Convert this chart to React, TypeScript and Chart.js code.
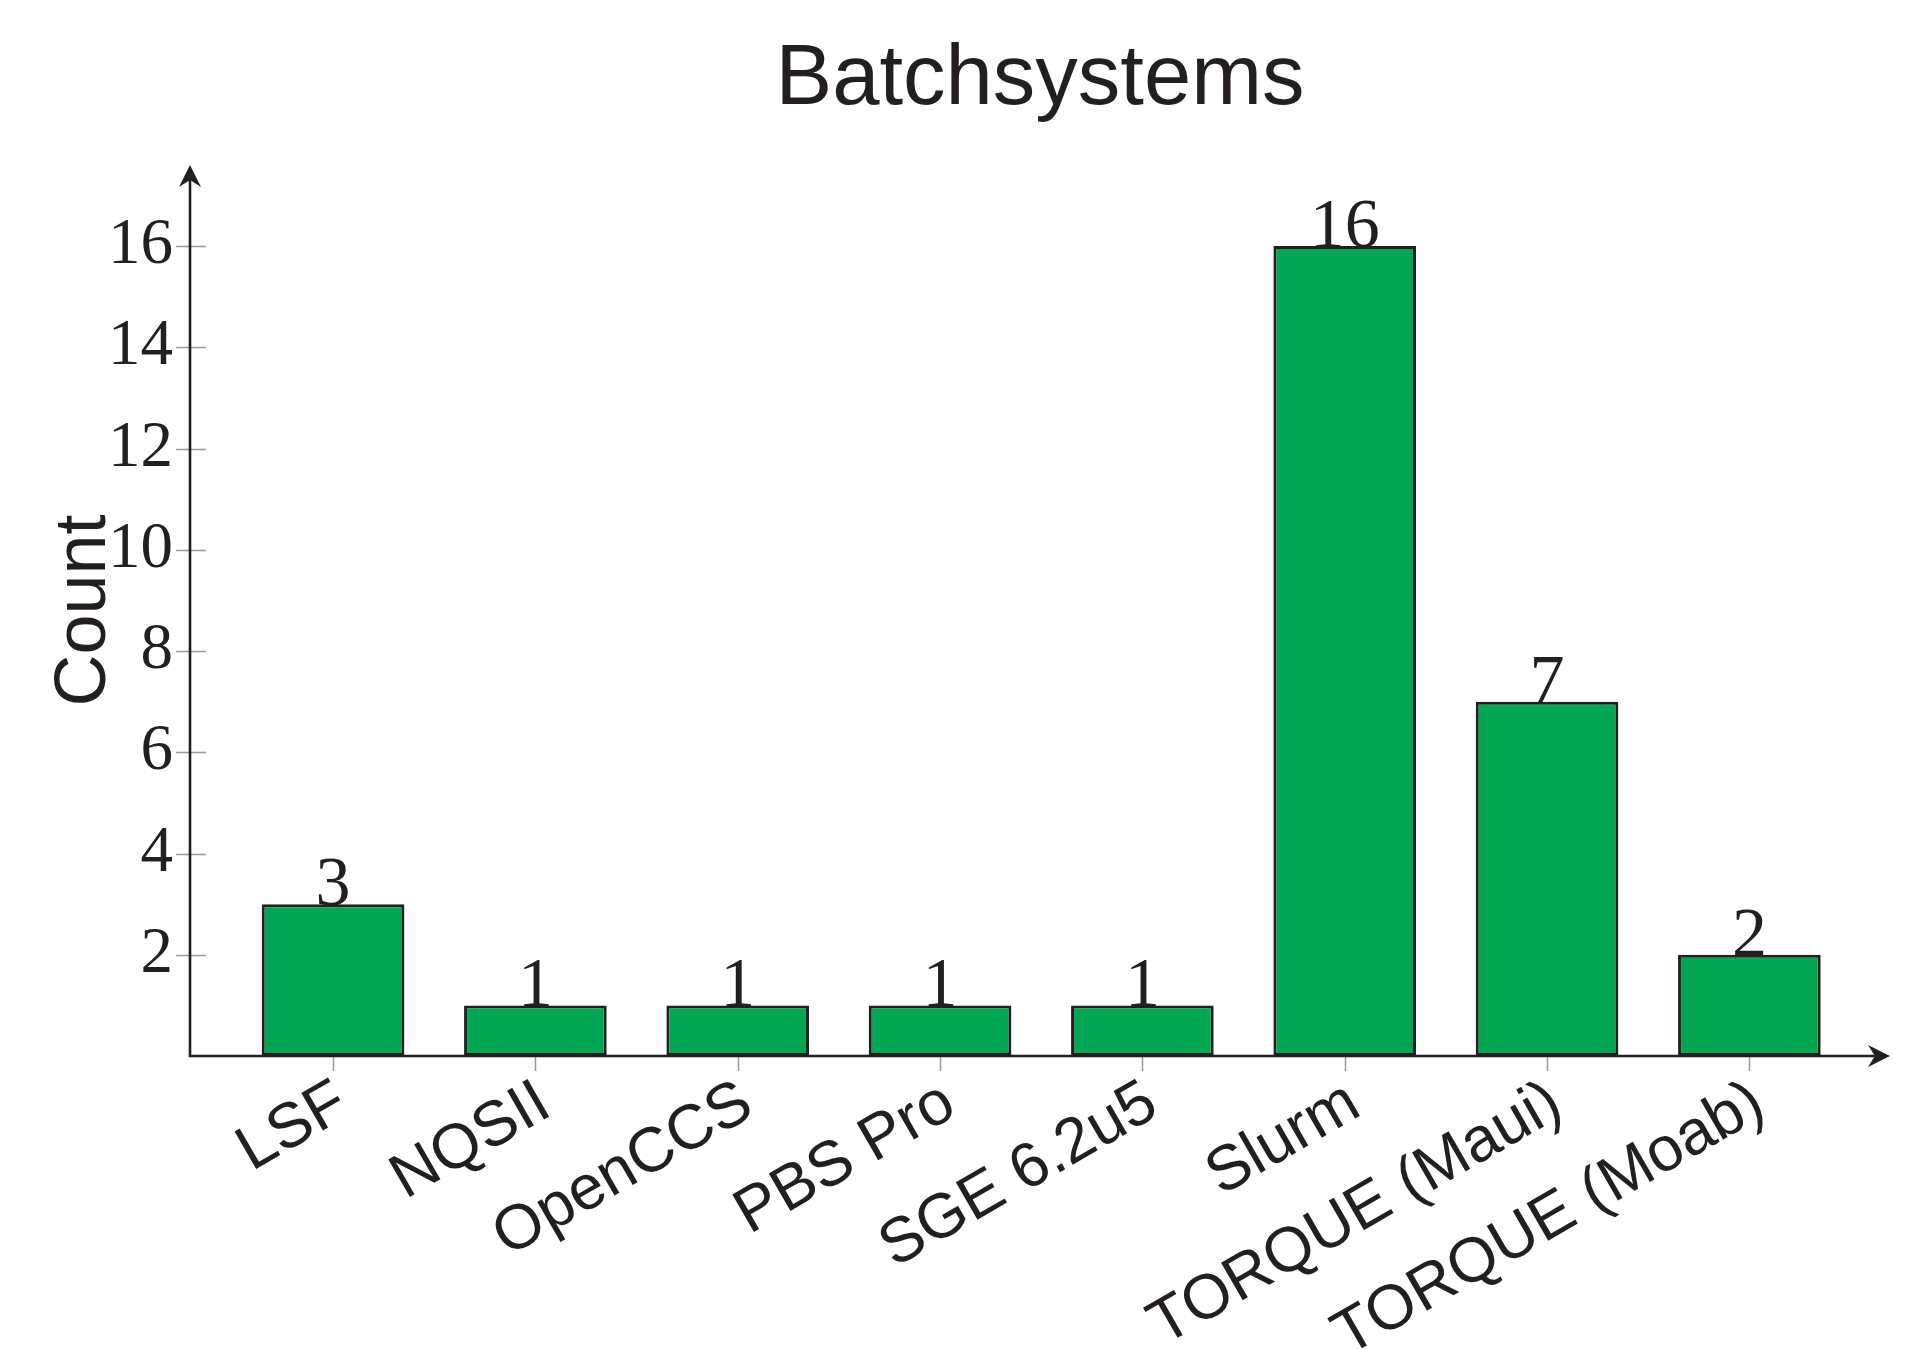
import React, { useEffect, useRef } from 'react';
import { Chart, registerables } from 'chart.js';

Chart.register(...registerables);

const categories = ['LSF', 'NQSII', 'OpenCCS', 'PBS Pro', 'SGE 6.2u5', 'Slurm', 'TORQUE (Maui)', 'TORQUE (Moab)'];
const counts = [3, 1, 1, 1, 1, 16, 7, 2];
const yTickValues = [2, 4, 6, 8, 10, 12, 14, 16];
const chartTitle = 'Batchsystems';
const yAxisTitle = 'Count';

const W = 1926;
const H = 1349;
const INK = '#231F20';
const BAR = '#00A651';
const TICK = '#9a9a9a';
const SERIF = '"Liberation Serif", "DejaVu Serif", serif';
const SANS = '"Liberation Sans", Arial, sans-serif';

const axesPlugin = {
  id: 'pgfAxes',
  beforeDatasetsDraw(chart: any) {
    const { ctx, chartArea, scales } = chart;
    const x = scales.x;
    const y = scales.y;
    const y0 = y.getPixelForValue(0);
    ctx.save();
    ctx.strokeStyle = TICK;
    ctx.lineWidth = 1.5;
    for (const v of yTickValues) {
      const py = Math.round(y.getPixelForValue(v)) + 0.5;
      ctx.beginPath();
      ctx.moveTo(chartArea.left - 14, py);
      ctx.lineTo(chartArea.left + 16, py);
      ctx.stroke();
    }
    categories.forEach((_, i) => {
      const px = Math.round(x.getPixelForValue(i)) + 0.5;
      ctx.beginPath();
      ctx.moveTo(px, y0 - 15);
      ctx.lineTo(px, y0 + 15);
      ctx.stroke();
    });
    ctx.restore();
  },
  afterDatasetsDraw(chart: any) {
    const { ctx, chartArea, scales } = chart;
    const x = scales.x;
    const y = scales.y;
    const y0 = y.getPixelForValue(0);
    const left = chartArea.left;
    const top = chartArea.top;
    const right = chartArea.right;
    ctx.save();
    ctx.strokeStyle = INK;
    ctx.fillStyle = INK;
    ctx.lineWidth = 2.6;
    ctx.beginPath();
    ctx.moveTo(left - 1, y0);
    ctx.lineTo(right - 10, y0);
    ctx.stroke();
    ctx.beginPath();
    ctx.moveTo(left, y0 + 1);
    ctx.lineTo(left, top + 10);
    ctx.stroke();
    ctx.beginPath();
    ctx.moveTo(right, y0);
    ctx.lineTo(right - 22, y0 - 11);
    ctx.lineTo(right - 15, y0);
    ctx.lineTo(right - 22, y0 + 11);
    ctx.closePath();
    ctx.fill();
    ctx.beginPath();
    ctx.moveTo(left, top);
    ctx.lineTo(left - 11, top + 22);
    ctx.lineTo(left, top + 15);
    ctx.lineTo(left + 11, top + 22);
    ctx.closePath();
    ctx.fill();
    ctx.font = `70px ${SERIF}`;
    ctx.textAlign = 'center';
    ctx.textBaseline = 'alphabetic';
    counts.forEach((v, i) => {
      ctx.fillText(String(v), x.getPixelForValue(i), y.getPixelForValue(v) + 1);
    });
    ctx.restore();
  },
};

export default function App() {
  const ref = useRef<HTMLCanvasElement | null>(null);

  useEffect(() => {
    if (!ref.current) return;
    const chart = new Chart(ref.current, {
      type: 'bar',
      data: {
        datasets: [
          {
            label: yAxisTitle,
            data: counts.map((v, i) => ({ x: i, y: v })),
            backgroundColor: BAR,
            borderColor: INK,
            borderWidth: 3,
            borderSkipped: false,
            categoryPercentage: 1,
            barPercentage: 0.705,
          },
        ],
      },
      options: {
        animation: false,
        responsive: false,
        maintainAspectRatio: false,
        devicePixelRatio: 1,
        layout: { padding: { left: 0, right: 36, top: 0, bottom: 0 } },
        plugins: {
          legend: { display: false },
          tooltip: { enabled: false },
          title: {
            display: true,
            fullSize: false,
            text: chartTitle,
            color: INK,
            font: { family: SANS, size: 85, weight: 'normal' },
            padding: { top: 30, bottom: 33 },
          },
        },
        scales: {
          x: {
            type: 'linear',
            min: -0.707,
            max: 7.695,
            offset: false,
            grid: { display: false, drawTicks: false },
            border: { display: false },
            afterBuildTicks: (s: any) => {
              s.ticks = categories.map((_, i) => ({ value: i }));
            },
            ticks: {
              autoSkip: false,
              minRotation: 30,
              maxRotation: 30,
              padding: 10,
              labelOffset: 10,
              color: INK,
              font: { family: SANS, size: 63 },
              callback: (v: any) => categories[Number(v)] ?? '',
            },
            afterFit: (s: any) => {
              s.height = H - 1056;
            },
          },
          y: {
            type: 'linear',
            min: 0,
            max: 17.6,
            grid: { display: false, drawTicks: false },
            border: { display: false },
            afterBuildTicks: (s: any) => {
              s.ticks = yTickValues.map((v) => ({ value: v }));
            },
            ticks: {
              padding: 17,
              color: INK,
              font: { family: SERIF, size: 65 },
            },
            title: {
              display: true,
              text: yAxisTitle,
              color: INK,
              font: { family: SANS, size: 72 },
              padding: { top: 42, bottom: 0 },
            },
            afterFit: (s: any) => {
              s.width = 190;
            },
          },
        },
      },
      plugins: [axesPlugin],
    } as any);
    return () => chart.destroy();
  }, []);

  return (
    <div style={{ position: 'absolute', left: 0, top: 0, width: W, height: H, background: '#fff' }}>
      <canvas ref={ref} width={W} height={H} style={{ width: W, height: H, display: 'block' }} />
    </div>
  );
}
